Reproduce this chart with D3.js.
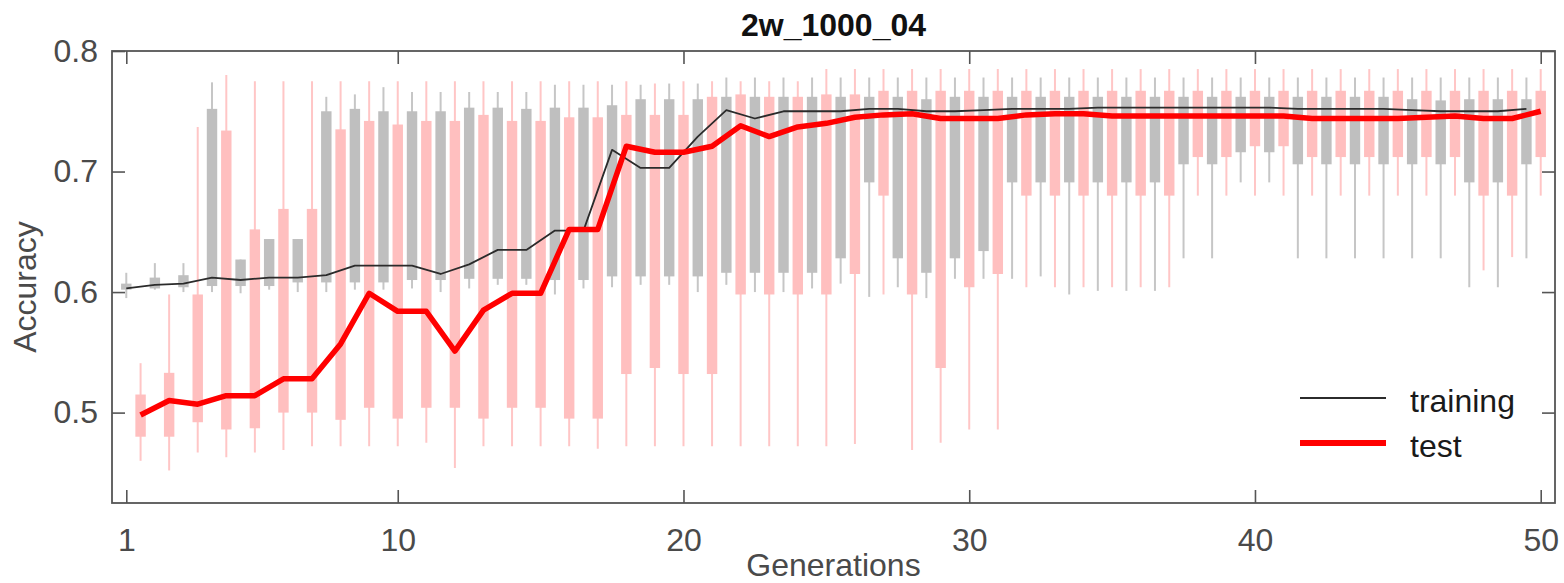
<!DOCTYPE html>
<html>
<head>
<meta charset="utf-8">
<script src="https://cdn.jsdelivr.net/npm/d3@7"></script>
<style>
  html, body { margin: 0; padding: 0; background: #ffffff; }
  svg { display: block; }
  text { font-family: "Liberation Sans", Arial, Helvetica, sans-serif; }
</style>
</head>
<body>
<svg id="chart" width="1564" height="583"></svg>
<script>
// ---------------- data ----------------
const title = "2w_1000_04";
const xLabel = "Generations";
const yLabel = "Accuracy";
const generations = d3.range(1, 51);
const xTickGenerations = [1, 10, 20, 30, 40, 50];
const yTickValues = [0.5, 0.6, 0.7, 0.8];
const seriesNames = ["training", "test"];

// training (gray boxes)
const trainLo = [0.595,0.602,0.600,0.600,0.599,0.602,0.600,0.600,0.602,0.602,
                 0.603,0.600,0.603,0.606,0.606,0.598,0.603,0.604,0.606,0.606,
                 0.600,0.606,0.600,0.600,0.603,0.607,0.596,0.604,0.595,0.611,
                 0.611,0.611,0.613,0.598,0.601,0.601,0.601,0.628,0.628,0.691,
                 0.691,0.628,0.628,0.628,0.628,0.628,0.628,0.604,0.604,0.628];
const trainQ1 = [0.602,0.603,0.604,0.605,0.605,0.605,0.608,0.608,0.608,0.608,
                 0.610,0.610,0.611,0.611,0.611,0.610,0.610,0.613,0.613,0.613,
                 0.613,0.616,0.616,0.616,0.616,0.628,0.691,0.628,0.616,0.628,
                 0.634,0.691,0.691,0.691,0.691,0.691,0.691,0.706,0.706,0.716,
                 0.716,0.706,0.706,0.706,0.706,0.706,0.706,0.691,0.691,0.706];
const trainQ3 = [0.607,0.612,0.614,0.752,0.627,0.644,0.644,0.750,0.752,0.750,
                 0.750,0.750,0.753,0.753,0.752,0.753,0.753,0.755,0.760,0.760,
                 0.760,0.762,0.762,0.762,0.762,0.762,0.762,0.762,0.760,0.762,
                 0.762,0.762,0.762,0.762,0.762,0.762,0.762,0.762,0.762,0.762,
                 0.762,0.762,0.762,0.762,0.762,0.760,0.759,0.760,0.760,0.760];
const trainHi = [0.616,0.624,0.624,0.774,0.627,0.644,0.644,0.762,0.764,0.770,
                 0.766,0.766,0.766,0.766,0.766,0.772,0.772,0.772,0.772,0.773,
                 0.773,0.778,0.778,0.778,0.778,0.778,0.778,0.778,0.778,0.778,
                 0.778,0.778,0.778,0.778,0.778,0.778,0.778,0.778,0.778,0.778,
                 0.778,0.778,0.778,0.778,0.778,0.778,0.778,0.778,0.778,0.778];
const trainLine = [0.603,0.606,0.607,0.612,0.610,0.612,0.612,0.614,0.622,0.622,
                   0.622,0.615,0.623,0.635,0.635,0.651,0.651,0.718,0.703,0.703,
                   0.729,0.751,0.744,0.750,0.750,0.750,0.752,0.752,0.750,0.750,
                   0.751,0.752,0.752,0.752,0.753,0.753,0.753,0.753,0.753,0.753,
                   0.753,0.752,0.752,0.752,0.752,0.751,0.750,0.750,0.750,0.752];

// test (pink boxes)
const testLo = [0.460,0.452,0.467,0.463,0.467,0.469,0.472,0.472,0.472,0.472,
                0.475,0.454,0.472,0.472,0.472,0.472,0.470,0.472,0.472,0.472,
                0.472,0.472,0.472,0.472,0.472,0.474,0.598,0.469,0.475,0.486,
                0.486,0.604,0.604,0.604,0.604,0.604,0.604,0.680,0.680,0.680,
                0.680,0.680,0.680,0.680,0.680,0.680,0.680,0.618,0.629,0.680];
const testQ1 = [0.480,0.480,0.492,0.486,0.487,0.500,0.500,0.494,0.504,0.495,
                0.504,0.504,0.495,0.504,0.504,0.495,0.495,0.532,0.537,0.532,
                0.532,0.598,0.598,0.598,0.598,0.615,0.680,0.598,0.537,0.604,
                0.615,0.680,0.680,0.680,0.680,0.680,0.680,0.712,0.712,0.721,
                0.721,0.712,0.712,0.712,0.712,0.712,0.712,0.680,0.680,0.712];
const testQ3 = [0.515,0.533,0.598,0.734,0.652,0.669,0.669,0.735,0.742,0.739,
                0.742,0.742,0.747,0.742,0.742,0.745,0.745,0.747,0.747,0.747,
                0.762,0.764,0.762,0.762,0.764,0.764,0.767,0.767,0.767,0.767,
                0.767,0.767,0.767,0.767,0.767,0.767,0.767,0.767,0.767,0.767,
                0.767,0.767,0.767,0.767,0.767,0.767,0.767,0.767,0.767,0.767];
const testHi = [0.541,0.598,0.737,0.780,0.775,0.775,0.775,0.775,0.775,0.775,
                0.775,0.775,0.775,0.775,0.775,0.775,0.775,0.775,0.773,0.775,
                0.775,0.775,0.775,0.775,0.785,0.785,0.785,0.785,0.785,0.785,
                0.785,0.785,0.785,0.785,0.785,0.785,0.785,0.785,0.785,0.785,
                0.785,0.785,0.785,0.785,0.785,0.785,0.785,0.785,0.785,0.785];
const testLine = [0.498,0.510,0.507,0.514,0.514,0.528,0.528,0.557,0.599,0.584,
                  0.584,0.551,0.585,0.599,0.599,0.652,0.652,0.721,0.716,0.716,
                  0.721,0.738,0.729,0.737,0.740,0.745,0.747,0.748,0.744,0.744,
                  0.744,0.747,0.748,0.748,0.746,0.746,0.746,0.746,0.746,0.746,
                  0.746,0.744,0.744,0.744,0.744,0.745,0.746,0.744,0.744,0.750];

// ---------------- layout ----------------
const svg = d3.select("#chart");
const L = 112, R = 1555, T = 51, B = 503;
const frameColor = "#555555";
const labelColor = "#4a4a4a";

// Two interleaved positions per generation: training at 2g-1, test at 2g
const x = d3.scaleLinear().domain([0, 101]).range([L, R]);
const y = d3.scaleLinear().domain([0.425, 0.8]).range([B, T]);
const posTrain = g => 2 * g - 1;
const posTest = g => 2 * g;
const boxW = x(0.73) - x(0);

function makeRows(lo, q1, q3, hi, line, posFn) {
  return generations.map((g, i) => ({
    g, pos: posFn(g), lo: lo[i], q1: q1[i], q3: q3[i], hi: hi[i], line: line[i]
  }));
}
const trainRows = makeRows(trainLo, trainQ1, trainQ3, trainHi, trainLine, posTrain);
const testRows = makeRows(testLo, testQ1, testQ3, testHi, testLine, posTest);

const plot = svg.append("g");
plot.append("defs").append("clipPath").attr("id", "clip")
  .append("rect").attr("x", L).attr("y", T).attr("width", R - L).attr("height", B - T);

const marks = plot.append("g").attr("clip-path", "url(#clip)");

function drawBoxes(rows, fill, whisk) {
  const gg = marks.append("g");
  gg.selectAll("line.w").data(rows).join("line")
    .attr("x1", d => x(d.pos)).attr("x2", d => x(d.pos))
    .attr("y1", d => y(d.hi)).attr("y2", d => y(d.lo))
    .attr("stroke", whisk).attr("stroke-width", 2);
  gg.selectAll("rect").data(rows).join("rect")
    .attr("x", d => x(d.pos) - boxW / 2).attr("width", boxW)
    .attr("y", d => y(d.q3)).attr("height", d => Math.max(1.5, y(d.q1) - y(d.q3)))
    .attr("fill", fill);
}
drawBoxes(trainRows, "#bfbfbf", "#c6c6c6");
drawBoxes(testRows, "#ffbfbf", "#ffc6c6");

const lineGen = d3.line().x(d => x(d.pos)).y(d => y(d.line));
marks.append("path").datum(trainRows).attr("d", lineGen)
  .attr("fill", "none").attr("stroke", "#2b2b2b").attr("stroke-width", 1.8)
  .attr("stroke-linejoin", "round");
marks.append("path").datum(testRows).attr("d", lineGen)
  .attr("fill", "none").attr("stroke", "#ff0000").attr("stroke-width", 5.5)
  .attr("stroke-linejoin", "round");

// ---------------- axes ----------------
const tickLen = 13;
const xTickPos = xTickGenerations.map(g => posTest(g) - (g === 1 ? 1 : 0));
const xAxis = d3.axisBottom(x).tickValues(xTickPos)
  .tickFormat((d, i) => xTickGenerations[i])
  .tickSizeInner(-tickLen).tickSizeOuter(0).tickPadding(25);
const gx = svg.append("g").attr("transform", `translate(0,${B})`).call(xAxis);
const gxTop = svg.append("g").attr("transform", `translate(0,${T})`)
  .call(d3.axisTop(x).tickValues(xTickPos).tickFormat("").tickSizeInner(-tickLen).tickSizeOuter(0));

const yAxis = d3.axisLeft(y).tickValues(yTickValues).tickFormat(d3.format(".1f"))
  .tickSizeInner(-tickLen).tickSizeOuter(0).tickPadding(14);
const gy = svg.append("g").attr("transform", `translate(${L},0)`).call(yAxis);
const gyR = svg.append("g").attr("transform", `translate(${R},0)`)
  .call(d3.axisRight(y).tickValues(yTickValues).tickFormat("").tickSizeInner(-tickLen).tickSizeOuter(0));

[gx, gxTop, gy, gyR].forEach(g => {
  g.select(".domain").remove();
  g.selectAll(".tick line").attr("stroke", frameColor).attr("stroke-width", 1.6);
  g.selectAll(".tick text").attr("fill", labelColor)
    .style("font-family", '"Liberation Sans", Arial, Helvetica, sans-serif')
    .style("font-size", "32px");
});

// frame
svg.append("rect").attr("x", L).attr("y", T).attr("width", R - L).attr("height", B - T)
  .attr("fill", "none").attr("stroke", frameColor).attr("stroke-width", 1.8);

// ---------------- labels ----------------
svg.append("text").attr("x", (L + R) / 2).attr("y", 36)
  .attr("text-anchor", "middle").attr("font-size", 32).attr("font-weight", "bold")
  .attr("fill", "#111").text(title);

svg.append("text").attr("x", (L + R) / 2).attr("y", 576)
  .attr("text-anchor", "middle").attr("font-size", 32).attr("fill", labelColor).text(xLabel);

svg.append("text").attr("transform", `translate(36,${(T + B) / 2 + 10}) rotate(-90)`)
  .attr("text-anchor", "middle").attr("font-size", 32).attr("fill", labelColor).text(yLabel);

// ---------------- legend ----------------
const legendStyles = [
  { stroke: "#2b2b2b", width: 1.8 },
  { stroke: "#ff0000", width: 6 }
];
const legendRowY = [398, 443];
const lg = svg.append("g");
seriesNames.forEach((name, i) => {
  lg.append("line").attr("x1", 1300).attr("x2", 1386)
    .attr("y1", legendRowY[i]).attr("y2", legendRowY[i])
    .attr("stroke", legendStyles[i].stroke).attr("stroke-width", legendStyles[i].width);
  lg.append("text").attr("x", 1410).attr("y", legendRowY[i] + 13.5)
    .attr("font-size", 32).attr("fill", "#1a1a1a").text(name);
});
</script>
</body>
</html>
